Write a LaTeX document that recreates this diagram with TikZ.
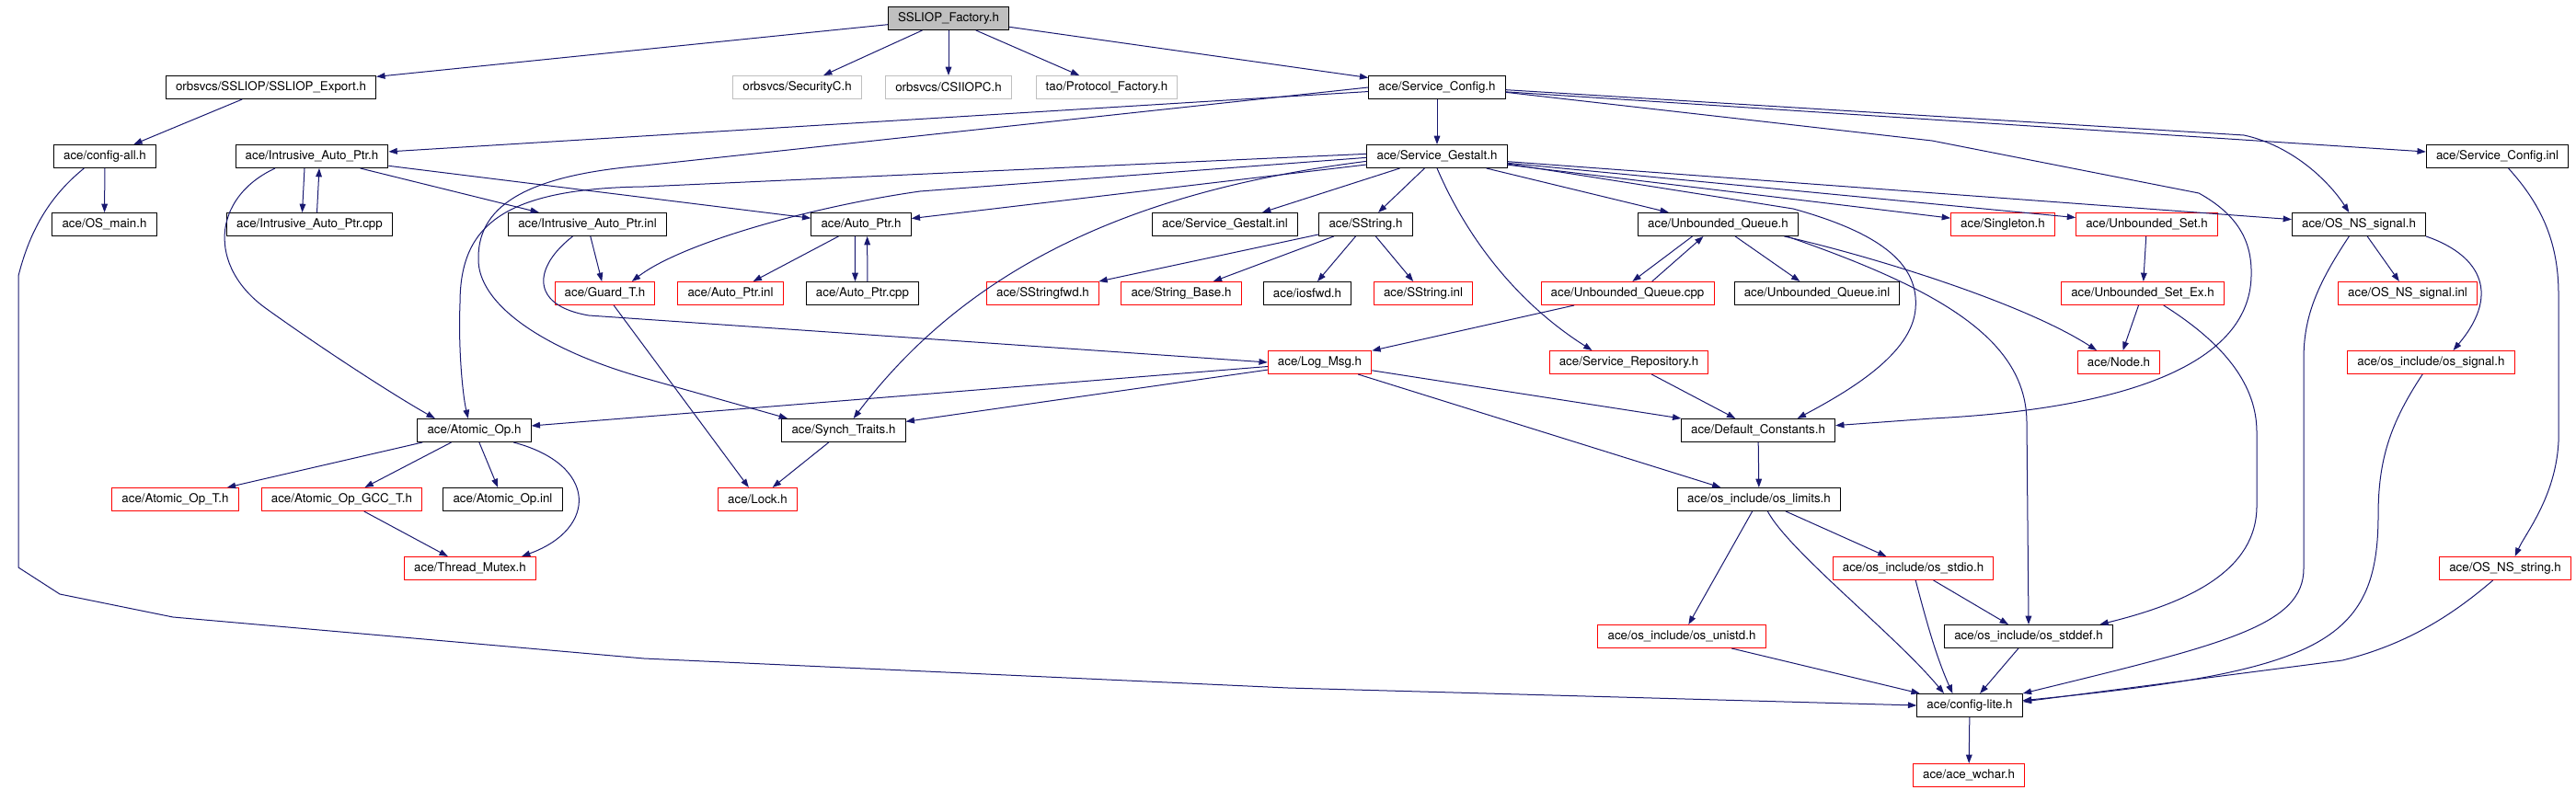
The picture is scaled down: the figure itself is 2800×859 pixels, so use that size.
\documentclass[tikz,border=0pt]{standalone}
\usepackage{fontspec}
\setmainfont{TeX Gyre Heros}
\usepackage{tikz}
\usetikzlibrary{arrows.meta}
\definecolor{edgeblue}{RGB}{25,25,112}
\definecolor{extgray}{RGB}{191,191,191}
\tikzstyle{every node}=[draw=black,line width=0.75pt,minimum height=18.75pt,inner xsep=8pt,inner ysep=0pt,font=\fontsize{10}{12}\selectfont]

\begin{document}
\begin{tikzpicture}[
    x=0.75pt, y=-0.75pt,
    header/.style={
        fill=extgray},
    file/.style={},
    missing/.style={
        draw=red},
    extern/.style={
        draw=extgray},
    dep/.style={
        draw=edgeblue,
        line width=0.75pt,
        -{Triangle[length=7pt,width=5pt]}},
  ]
  \useasboundingbox (0,0) rectangle (2800,859);
  % Header
  \node[header] (factory) at (1031,20) {SSLIOP\_Factory.h};
  % Direct includes
  \node[file] (export) at (294.5,95) {orbsvcs/SSLIOP/SSLIOP\_Export.h};
  \node[extern] (securityc) at (866.5,95) {orbsvcs/SecurityC.h};
  \node[extern] (csiiopc) at (1031,95) {orbsvcs/CSIIOPC.h};
  \node[extern] (protofac) at (1203,95) {tao/Protocol\_Factory.h};
  \node[file] (svcconf) at (1562,95) {ace/Service\_Config.h};
  % Second level
  \node[file] (cfgall) at (114,170) {ace/config-all.h};
  \node[file] (iap) at (339,170) {ace/Intrusive\_Auto\_Ptr.h};
  \node[file] (gestalt) at (1562,170) {ace/Service\_Gestalt.h};
  \node[file] (svcconfinl) at (2714.5,170) {ace/Service\_Config.inl};
  \node[file] (osmain) at (113.5,244) {ace/OS\_main.h};
  \node[file] (iapcpp) at (336.5,244) {ace/Intrusive\_Auto\_Ptr.cpp};
  \node[file] (iapinl) at (638.5,244) {ace/Intrusive\_Auto\_Ptr.inl};
  \node[file] (autoptr) at (936,244) {ace/Auto\_Ptr.h};
  \node[file] (gestaltinl) at (1331.5,244) {ace/Service\_Gestalt.inl};
  \node[file] (sstring) at (1484.5,244) {ace/SString.h};
  \node[file] (uqueue) at (1867.5,244) {ace/Unbounded\_Queue.h};
  \node[missing] (singleton) at (2177,244) {ace/Singleton.h};
  \node[missing] (uset) at (2333.5,244) {ace/Unbounded\_Set.h};
  \node[file] (nssignal) at (2564,244) {ace/OS\_NS\_signal.h};
  \node[missing] (guard) at (657.5,319) {ace/Guard\_T.h};
  \node[missing] (autoptrinl) at (794,319) {ace/Auto\_Ptr.inl};
  \node[file] (autoptrcpp) at (937.5,319) {ace/Auto\_Ptr.cpp};
  \node[missing] (sstringfwd) at (1133.5,319) {ace/SStringfwd.h};
  \node[missing] (strbase) at (1284,319) {ace/String\_Base.h};
  \node[file] (iosfwd) at (1421,319) {ace/iosfwd.h};
  \node[missing] (sstringinl) at (1547,319) {ace/SString.inl};
  \node[missing] (uqueuecpp) at (1769,319) {ace/Unbounded\_Queue.cpp};
  \node[file] (uqueueinl) at (1975,319) {ace/Unbounded\_Queue.inl};
  \node[missing] (usetex) at (2329,319) {ace/Unbounded\_Set\_Ex.h};
  \node[missing] (nssignalinl) at (2617,319) {ace/OS\_NS\_signal.inl};
  \node[missing] (logmsg) at (1434.5,394) {ace/Log\_Msg.h};
  \node[missing] (svcrepo) at (1770.5,394) {ace/Service\_Repository.h};
  \node[missing] (node) at (2303,394) {ace/Node.h};
  \node[missing] (ossignal) at (2642.5,394) {ace/os\_include/os\_signal.h};
  \node[file] (atomic) at (515.5,468) {ace/Atomic\_Op.h};
  \node[file] (synch) at (917,468) {ace/Synch\_Traits.h};
  \node[file] (defconst) at (1911,468) {ace/Default\_Constants.h};
  \node[missing] (atomict) at (190.5,543) {ace/Atomic\_Op\_T.h};
  \node[missing] (atomicgcc) at (371.5,543) {ace/Atomic\_Op\_GCC\_T.h};
  \node[file] (atomicinl) at (546.5,543) {ace/Atomic\_Op.inl};
  \node[missing] (lock) at (823.5,543) {ace/Lock.h};
  \node[file] (oslimits) at (1912,543) {ace/os\_include/os\_limits.h};
  \node[missing] (mutex) at (511,618) {ace/Thread\_Mutex.h};
  \node[missing] (osstdio) at (2079.5,618) {ace/os\_include/os\_stdio.h};
  \node[missing] (nsstring) at (2723,618) {ace/OS\_NS\_string.h};
  \node[missing] (osunistd) at (1828,692) {ace/os\_include/os\_unistd.h};
  \node[file] (osstddef) at (2205,692) {ace/os\_include/os\_stddef.h};
  \node[file] (cfglite) at (2141,767) {ace/config-lite.h};
  \node[missing] (wchar) at (2140,843) {ace/ace\_wchar.h};

  % SSLIOP_Factory.h
  \draw[dep] (factory) -- (export);
  \draw[dep] (factory) -- (securityc);
  \draw[dep] (factory) -- (csiiopc);
  \draw[dep] (factory) -- (protofac);
  \draw[dep] (factory) -- (svcconf);
  % config
  \draw[dep] (export) -- (cfgall);
  \draw[dep] (cfgall) -- (osmain);
  \draw[dep] ([xshift=-17pt]cfgall.south) .. controls (62,207) and (35,240) .. (20,300) -- (20,617) -- (65,646) -- (188,671) -- (700,716) -- (1400,748) -- (cfglite.west);
  % Service_Config.h
  \draw[dep] (svcconf) -- (iap);
  \draw[dep] (svcconf) -- (gestalt);
  \draw[dep] (svcconf) -- (svcconfinl);
  \draw[dep] ([yshift=-2pt]svcconf.east) -- (2439,147) .. controls (2490,158) and (2530,195) .. ([xshift=-8pt]nssignal.north);
  \draw[dep] ([yshift=-4pt]svcconf.east) -- (2100,153) -- (2390,210) .. controls (2435,235) and (2448,265) .. (2447,300) .. controls (2445,400) and (2300,445) .. (2100,455) -- ([yshift=4pt]defconst.east);
  \draw[dep] (svcconf.west) -- (700,180) .. controls (580,190) and (520,220) .. (520,280) .. controls (518,330) and (590,380) .. (700,411) -- ([xshift=5pt]synch.north west);
  % Service_Gestalt.h
  \draw[dep] (gestalt) -- (gestaltinl);
  \draw[dep] (gestalt) -- (sstring);
  \draw[dep] (gestalt) -- (uqueue);
  \draw[dep] (gestalt) -- (singleton);
  \draw[dep] (gestalt) -- (uset);
  \draw[dep] (gestalt) -- (nssignal);
  \draw[dep] (gestalt) -- (autoptr);
  \draw[dep] ([yshift=-6pt]gestalt.east) -- (1949,227) .. controls (2050,255) and (2086,290) .. (2082,336) .. controls (2078,385) and (2010,425) .. ([xshift=32pt]defconst.north);
  \draw[dep] (gestalt.south) .. controls (1595,260) and (1650,330) .. ([xshift=-30pt]svcrepo.north);
  \draw[dep] ([yshift=-1pt]gestalt.west) -- (1000,208) .. controls (880,225) and (740,265) .. ([xshift=22pt]guard.north);
  \draw[dep] ([yshift=-4pt]gestalt.west) .. controls (1250,205) and (1060,280) .. ([xshift=8pt]synch.north);
  \draw[dep] ([yshift=2pt]gestalt.west) -- (700,203) .. controls (540,205) and (500,250) .. (500,330) .. controls (498,380) and (503,430) .. ([xshift=-5pt]atomic.north);
  % Intrusive_Auto_Ptr.h
  \draw[dep] ([xshift=-6pt]iap.south) -- ([xshift=-6pt]iapcpp.north);
  \draw[dep] ([xshift=6pt]iapcpp.north) -- ([xshift=6pt]iap.south);
  \draw[dep] (iap) -- (iapinl);
  \draw[dep] (iap) -- (autoptr);
  \draw[dep] ([xshift=-30pt]iap.south) .. controls (230,215) and (225,290) .. (290,336) .. controls (340,372) and (420,425) .. ([xshift=-32pt]atomic.north);
  \draw[dep] (iapinl) -- (guard);
  \draw[dep] ([xshift=-12pt]iapinl.south) .. controls (580,290) and (575,332) .. (640,343) -- (logmsg.west);
  % Auto_Ptr.h
  \draw[dep] (autoptr) -- (autoptrinl);
  \draw[dep] ([xshift=-5pt]autoptr.south) -- ([xshift=-6pt]autoptrcpp.north);
  \draw[dep] ([xshift=4pt]autoptrcpp.north) -- ([xshift=5pt]autoptr.south);
  \draw[dep] (guard) -- (lock);
  \draw[dep] (synch) -- (lock);
  % SString.h
  \draw[dep] (sstring) -- (sstringfwd);
  \draw[dep] (sstring) -- (strbase);
  \draw[dep] (sstring) -- (iosfwd);
  \draw[dep] (sstring) -- (sstringinl);
  % Unbounded_Queue.h, Unbounded_Set.h
  \draw[dep] ([xshift=-21pt]uqueue.south) -- ([xshift=4pt]uqueuecpp.north);
  \draw[dep] ([xshift=20pt]uqueuecpp.north) -- ([xshift=-12pt]uqueue.south);
  \draw[dep] (uqueue) -- (uqueueinl);
  \draw[dep] ([xshift=54pt]uqueue.south) .. controls (2040,280) and (2200,330) .. ([xshift=-18pt]node.north);
  \draw[dep] ([xshift=56pt]uqueue.south) .. controls (2110,315) and (2203,370) .. (2203,460) -- (osstddef.north);
  \draw[dep] (uqueuecpp) -- (logmsg);
  \draw[dep] (uset) -- (usetex);
  \draw[dep] (usetex) -- (node);
  \draw[dep] ([xshift=17pt]usetex.south) .. controls (2420,375) and (2453,420) .. (2453,470) -- (2453,550) .. controls (2453,620) and (2380,655) .. ([xshift=58pt]osstddef.north);
  % OS_NS_signal.h
  \draw[dep] (nssignal) -- (nssignalinl);
  \draw[dep] (nssignal.south east) .. controls (2690,275) and (2722,315) .. ([xshift=18pt]ossignal.north);
  \draw[dep] ([xshift=-8pt]nssignal.south) .. controls (2518,310) and (2504,345) .. (2504,390) -- (2504,618) .. controls (2504,680) and (2420,700) .. (cfglite.north east);
  \draw[dep] ([xshift=-7pt]ossignal.south) .. controls (2598,460) and (2585,500) .. (2585,560) .. controls (2585,700) and (2520,730) .. ([yshift=4pt]cfglite.east);
  % Service_Config.inl
  \draw[dep] ([xshift=9pt]svcconfinl.south) .. controls (2760,220) and (2781,260) .. (2781,320) -- (2781,480) .. controls (2778,540) and (2745,580) .. ([xshift=8pt]nsstring.north);
  \draw[dep] ([xshift=-10pt]nsstring.south) .. controls (2670,665) and (2620,700) .. (2546,718) -- ([yshift=3pt]cfglite.east);
  % Log_Msg.h
  \draw[dep] (logmsg) -- (atomic);
  \draw[dep] (logmsg) -- (synch);
  \draw[dep] (logmsg) -- (defconst);
  \draw[dep] (logmsg) -- (oslimits);
  \draw[dep] (svcrepo) -- (defconst);
  \draw[dep] (defconst) -- (oslimits);
  % Atomic_Op.h
  \draw[dep] (atomic) -- (atomict);
  \draw[dep] (atomic) -- (atomicgcc);
  \draw[dep] (atomic) -- (atomicinl);
  \draw[dep] ([xshift=32pt]atomic.south) .. controls (650,505) and (650,575) .. ([xshift=42pt]mutex.north);
  \draw[dep] (atomicgcc) -- (mutex);
  % os_include
  \draw[dep] (oslimits) -- (osunistd);
  \draw[dep] (oslimits) -- (osstdio);
  \draw[dep] ([xshift=7pt]oslimits.south) .. controls (1945,600) and (2060,690) .. ([xshift=-21pt]cfglite.north);
  \draw[dep] (osstdio) -- (osstddef);
  \draw[dep] ([xshift=2pt]osstdio.south) .. controls (2095,680) and (2105,715) .. ([xshift=-14pt]cfglite.north);
  \draw[dep] (osstddef) -- (cfglite);
  \draw[dep] (osunistd) -- (cfglite);
  \draw[dep] (cfglite) -- (wchar);
\end{tikzpicture}
\end{document}
